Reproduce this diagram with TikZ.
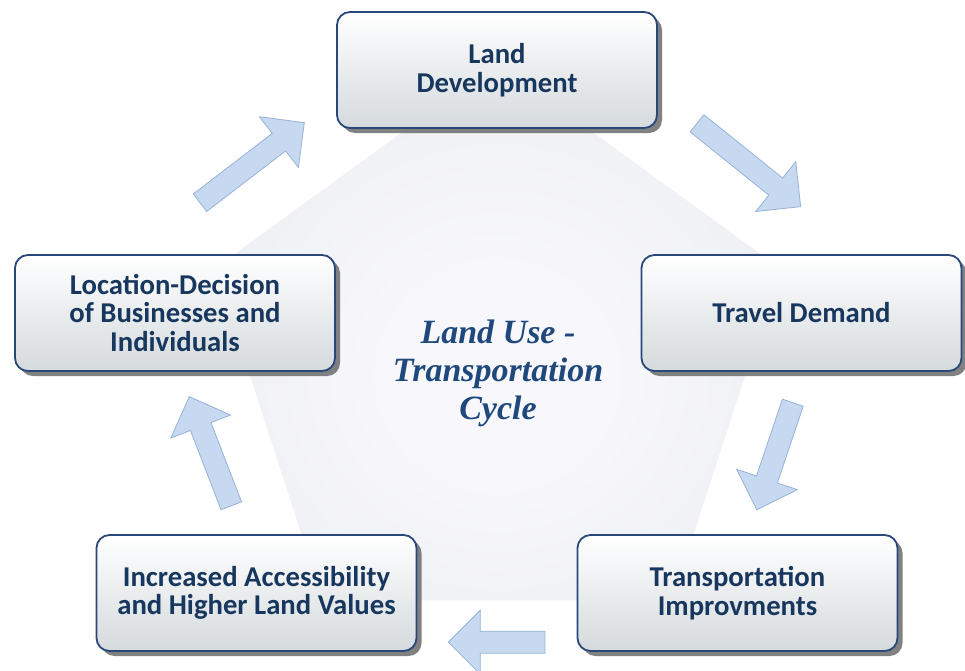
\documentclass[tikz,border=0pt]{standalone}
\usepackage{fontspec}
\usetikzlibrary{shadows}
\newfontfamily\carl{Carlito}
\newfontfamily\lserif{Liberation Serif}
\definecolor{navytext}{RGB}{23,55,94}
\definecolor{centertext}{RGB}{31,73,125}
\definecolor{boxborder}{RGB}{40,72,122}
\definecolor{boxbottom}{RGB}{213,218,221}
\definecolor{arrowfill}{RGB}{198,217,241}
\definecolor{arrowline}{RGB}{149,179,215}
\definecolor{pentcenter}{RGB}{248,248,252}
\definecolor{pentedge}{RGB}{227,230,234}
\pgfdeclareradialshading{pentshade}{\pgfpoint{0bp}{-5bp}}{color(0bp)=(pentcenter); color(10bp)=(pentcenter); color(45bp)=(pentedge); color(60bp)=(pentedge)}
\newcommand\BArrow[4]{%
  \begin{scope}[shift={(#1,#2)}, rotate=#3]
    \draw[blockarrow] (0,-11) -- (#4-32,-11) -- (#4-32,-32) -- (#4,0) -- (#4-32,32) -- (#4-32,11) -- (0,11) -- cycle;
  \end{scope}}
\tikzset{
  cyclebox/.style={rounded corners=13pt, draw=boxborder, line width=1.8pt,
    top color=white, bottom color=boxbottom, minimum width=320pt, minimum height=116pt,
    align=center, text=navytext, font=\carl\bfseries\fontsize{28.7}{28.5}\selectfont,
    drop shadow={shadow xshift=5pt, shadow yshift=-5pt, fill=black!55, opacity=0.9}},
  blockarrow/.style={fill=arrowfill, draw=arrowline, line width=0.8pt, line join=miter},
  centerlabel/.style={align=center, text=centertext, font=\lserif\bfseries\itshape\fontsize{34}{38}\selectfont}
}
\begin{document}
\begin{tikzpicture}[x=1pt,y=-1pt]
\useasboundingbox (0,0) rectangle (965,670);
% background pentagon
\shade[shading=pentshade] (497.5,63) -- (780,268.2) -- (672.1,600.3) -- (322.9,600.3) -- (215,268.2) -- cycle;
% arrows
\BArrow{200}{202.7}{37.5}{131.5}
\BArrow{697}{123.3}{-38.8}{133}
\BArrow{792.8}{402.7}{251.4}{113}
\BArrow{545}{642.2}{180}{96.7}
\BArrow{231.3}{505.8}{111.1}{117}
% boxes
\node[cyclebox] (ld) at (497,70) {Land\\Development};
\node[cyclebox] (td) at (801.5,313) {Travel Demand};
\node[cyclebox] (ti) at (737.5,593) {Transportation\\Improvments};
\node[cyclebox] (ia) at (256.5,593) {Increased Accessibility\\and Higher Land Values};
\node[cyclebox] (loc) at (175,313) {Location-Decision\\of Businesses and\\Individuals};
\node[centerlabel] (ctr) at (498,373) {Land Use -\\Transportation\\Cycle};
\end{tikzpicture}
\end{document}
